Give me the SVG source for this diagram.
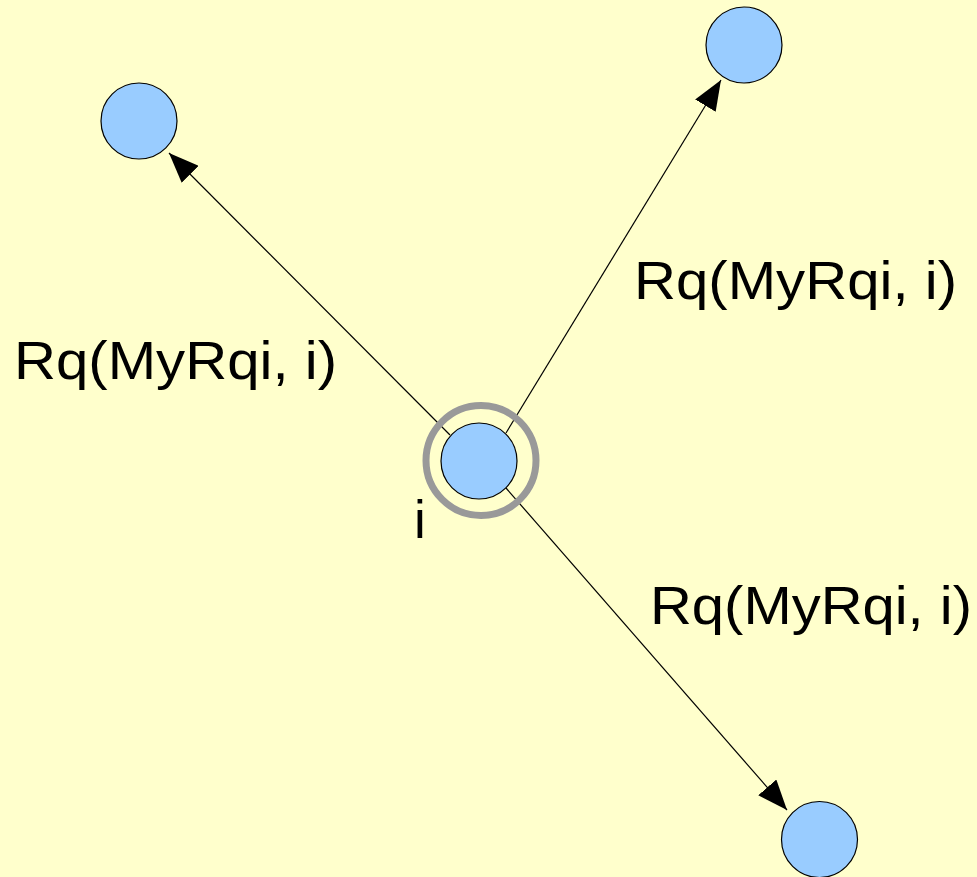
<svg xmlns="http://www.w3.org/2000/svg" width="977" height="877" viewBox="0 0 977 877">
<style>
.node{fill:#99ccff;stroke:#000;stroke-width:1.2}
.ring{fill:none;stroke:#999999;stroke-width:7}
.edge{stroke:#000;stroke-width:1.2;fill:none}
.lbl{font-family:"Liberation Sans",Arial,sans-serif;font-size:53px;fill:#000}
</style>
<defs>
<marker id="arr" viewBox="0 0 30 24" refX="30" refY="12" markerWidth="30" markerHeight="24" markerUnits="userSpaceOnUse" orient="auto">
<path d="M0,0 L30,12 L0,24 Z" fill="#000"/>
</marker>
</defs>
<rect width="977" height="877" fill="#ffffcc"/>
<g id="connectors">
<line class="edge" x1="450" y1="435" x2="169" y2="153" marker-end="url(#arr)"/>
<line class="edge" x1="506" y1="433" x2="721" y2="80" marker-end="url(#arr)"/>
<line class="edge" x1="506" y1="488" x2="787" y2="810" marker-end="url(#arr)"/>
</g>
<g id="node-center">
<circle class="node" cx="479" cy="461" r="38"/>
<circle class="ring" cx="481" cy="460.5" r="55"/>
<text class="lbl" x="414" y="538">i</text>
</g>
<g id="node-topleft"><circle class="node" cx="139" cy="121" r="38"/></g>
<g id="node-topright"><circle class="node" cx="744" cy="45" r="38"/></g>
<g id="node-bottomright"><circle class="node" cx="819.5" cy="839.5" r="38"/></g>
<g id="labels">
<text class="lbl" x="14" y="379" textLength="323" lengthAdjust="spacingAndGlyphs">Rq(MyRqi, i)</text>
<text class="lbl" x="634" y="299" textLength="323" lengthAdjust="spacingAndGlyphs">Rq(MyRqi, i)</text>
<text class="lbl" x="650" y="624" textLength="322" lengthAdjust="spacingAndGlyphs">Rq(MyRqi, i)</text>
</g>
</svg>
